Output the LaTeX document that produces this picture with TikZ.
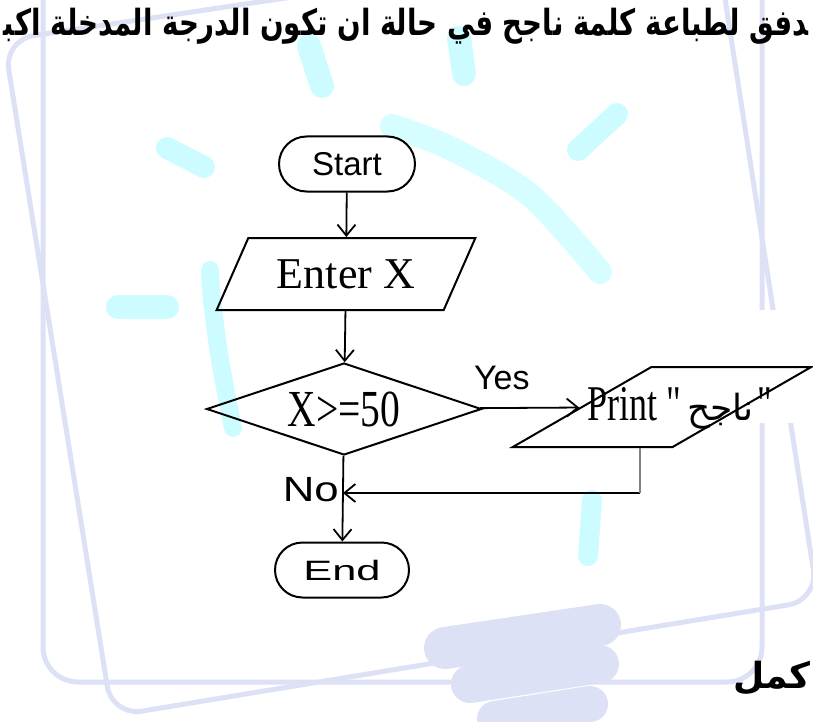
\documentclass[tikz,border=0pt]{standalone}
\usepackage{fontspec}
\setmainfont{Liberation Serif}
\newfontfamily\sansf{Liberation Sans}
\newfontfamily\printf{Liberation Serif}[Ligatures=TeXOff]
\newfontfamily\arabicfont[Script=Arabic]{DejaVu Sans}
\TeXXeTstate=1
\usetikzlibrary{shapes.geometric,arrows.meta}

\definecolor{bulbline}{HTML}{DDE1F5}
\definecolor{bulbray}{HTML}{CCFCFF}

\tikzset{
  term/.style={draw,line width=2pt,rounded corners=27.5pt,minimum height=55pt,inner sep=0pt},
  io/.style={draw,line width=2pt,trapezium,trapezium stretches=true,inner sep=1pt},
  decide/.style={draw,line width=2pt,diamond,aspect=3,inner sep=0pt,minimum width=275pt,minimum height=92pt},
  flow/.style={line width=1.8pt,-{Straight Barb[length=11pt,width=18pt,line width=1.8pt]}},
  ray/.style={bulbray,line width=24pt,line cap=round},
  rim/.style={bulbline,line width=5pt},
  headline/.style={font=\arabicfont\bfseries\fontsize{36}{42}\selectfont,inner sep=0pt},
}

\begin{document}
\begin{tikzpicture}[x=1pt,y=-1pt]
\useasboundingbox (0,0) rectangle (813,722);
\clip (0,0) rectangle (813,722);

% watermark behind the chart
\draw[rim,rounded corners=35pt] (43,-60) -- (43,682) -- (762,682) -- (762,-60);
\draw[rim,rounded corners=30pt] (715,-66) -- (4,40) -- (112,716) -- (818,600) -- cycle;
\draw[bulbline,line width=42pt,line cap=round] (445,648) -- (600,625);
\draw[bulbline,line width=38pt,line cap=round] (470,684) -- (600,664);
\draw[bulbline,line width=36pt,line cap=round] (495,719) -- (590,704);
\fill[white] (655,310) rectangle (813,423);
\draw[ray,line width=22pt] (167,148) -- (204,167);
\draw[ray] (118,307) -- (167,307);
\draw[ray,line width=22pt] (578,150) -- (617,114);
\draw[ray] (322,86) -- (309,46);
\draw[ray] (464,74) -- (459,38);
\draw[ray,line width=18pt] plot[smooth] coordinates {(233,428) (220,360) (212,300) (210,270)};
\draw[ray,line width=24pt,bulbray!80] plot[smooth] coordinates {(392,126) (450,148) (530,195) (600,272)};
\draw[ray,line width=20pt] (592,500) -- (588,556);

% title line
\node[headline,anchor=base east] (title) at (809,36)
  {\resizebox{805pt}{\height}{\beginR ‍دفق لطباعة كلمة ناجح في حالة ان تكون الدرجة المدخلة اكب‍\endR}};
\node[headline,anchor=base east] (more) at (811,688) {\beginR كمل\endR};

% flowchart
\node[term,minimum width=136pt] (start) at (347,164) {\sansf\fontsize{33}{33}\selectfont Start};
\node[io,trapezium left angle=54,trapezium right angle=126,minimum width=259pt,minimum height=72pt] (enter) at (346,274)
  {\fontsize{44}{44}\selectfont Enter X};
\node[decide] (test) at (344,409) {\scalebox{0.76}[1]{\fontsize{52}{52}\selectfont X>=50}};
\node[io,trapezium left angle=47,trapezium right angle=133,minimum width=299pt,minimum height=80pt] (print) at (662,407) {\strut};
\node (printtxt) at (680,408)
  {\scalebox{0.72}[1]{\printf\fontsize{50}{50}\selectfont Print "}\hspace{6pt}{\arabicfont\fontsize{36}{36}\selectfont\beginR ناجح\endR}\hspace{4pt}\scalebox{0.72}[1]{\printf\fontsize{50}{50}\selectfont "}};
\node[term,minimum width=134pt] (end) at (342,570) {\scalebox{1.55}[1]{\sansf\fontsize{28}{28}\selectfont End}};

\coordinate (turn) at (640,493);
\coordinate (join) at (343,493);

\path[flow]
(start) edge (enter)
(enter) edge (test)
(test) edge node[pos=0.22,above=14pt,font=\sansf\fontsize{34}{34}\selectfont] {Yes} (print)
(test) edge node[pos=0.39,left,font=\sansf\fontsize{35}{35}\selectfont] {\scalebox{1.25}[1]{No}} (end)
(turn) edge (join);
\draw[gray,line width=2pt] (print.south -| turn) -- (turn);
\end{tikzpicture}
\end{document}
